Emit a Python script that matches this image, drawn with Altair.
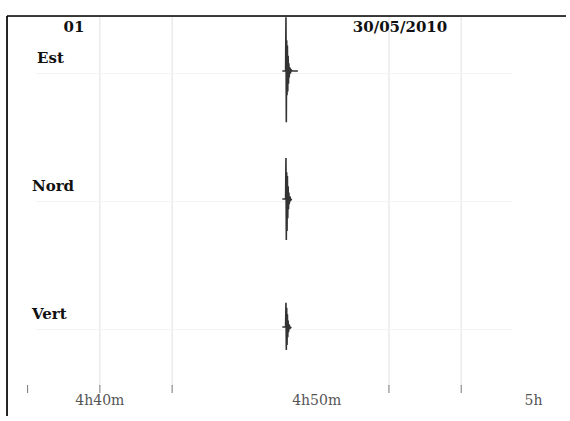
import altair as alt
import pandas as pd

# ---- data ----
stations = ["Est", "Nord", "Vert"]
track_index = [0, 1, 2]

# time in seconds after 4h00m
est_t = [2905, 2914, 2915, 2916, 2917, 2918, 2919, 2920, 2921, 2922, 2923, 2924, 2925, 2927, 2929, 2932, 2948]
est_a = [0.0, 0.0, -0.42, 0.40, -0.24, 0.19, -0.20, 0.16, -0.12, 0.10, -0.06, 0.05, -0.03, 0.02, -0.01, 0.0, 0.0]

nord_t = [2905, 2914, 2915, 2916, 2917, 2918, 2919, 2920, 2921, 2922, 2923, 2924, 2926, 2928, 2931]
nord_a = [0.0, 0.0, -0.32, 0.32, -0.21, 0.25, -0.18, 0.15, -0.10, 0.08, -0.05, 0.04, -0.02, 0.01, 0.0]

vert_t = [2905, 2914, 2915, 2916, 2917, 2918, 2919, 2920, 2921, 2922, 2924, 2926, 2930]
vert_a = [0.0, 0.0, -0.19, 0.18, -0.15, 0.14, -0.10, 0.08, -0.05, 0.04, -0.02, 0.01, 0.0]

tick_values = [2200, 2400, 2600, 3200, 3400]
grid_values = [2400, 2600, 3200, 3400]
tick_labels = ["4h40m", "4h50m", "5h"]
tick_label_values = [2400, 3000, 3600]

title_left = "01"
title_date = "30/05/2010"

x_domain = [2143, 3690]
y_domain = [-0.43, 2.695]

# ---- tables ----
rows = []
for name, k, ts, amps in [("Est", 0, est_t, est_a), ("Nord", 1, nord_t, nord_a), ("Vert", 2, vert_t, vert_a)]:
    for i, (t, a) in enumerate(zip(ts, amps)):
        rows.append({"station": name, "i": i, "t": t, "y": k + a})
trace_df = pd.DataFrame(rows)

base_rows = []
for name, k in zip(stations, track_index):
    base_rows.append({"station": name, "t": x_domain[0] + 80, "y": k + 0.02})
    base_rows.append({"station": name, "t": x_domain[1] - 150, "y": k + 0.02})
base_df = pd.DataFrame(base_rows)

label_df = pd.DataFrame({"station": stations, "y": [k - 0.1 for k in track_index],
                         "px": [37 - 7, 32 - 7, 32 - 7]})
grid_df = pd.DataFrame({"t": grid_values})
tick_df = pd.DataFrame({"t": tick_values})
ticklab_df = pd.DataFrame({"t": tick_label_values, "label": tick_labels})

W, H = 559, 400
xs = alt.Scale(domain=x_domain, nice=False, zero=False)
ys = alt.Scale(domain=y_domain, nice=False, zero=False, reverse=True)
X = lambda f="t": alt.X(f"{f}:Q", scale=xs, axis=None)

grid = alt.Chart(grid_df).mark_rule(color="#e6e6e6", strokeWidth=1.2).encode(
    x=X(), y=alt.value(0), y2=alt.value(370))
ticks = alt.Chart(tick_df).mark_rule(color="#777", strokeWidth=1).encode(
    x=X(), y=alt.value(369), y2=alt.value(377))
ticklabs = alt.Chart(ticklab_df).mark_text(font="DejaVu Serif", fontSize=14, color="#555",
                                           baseline="middle", align="center").encode(
    x=X(), y=alt.value(385), text="label:N")

baseline = alt.Chart(base_df).mark_line(color="#f3f3f3", strokeWidth=1).encode(
    x=X(), y=alt.Y("y:Q", scale=ys, axis=None), detail="station:N")
trace = alt.Chart(trace_df).mark_line(color="#333333", strokeWidth=1.6).encode(
    x=X(), y=alt.Y("y:Q", scale=ys, axis=None), detail="station:N", order="i:Q")

labels = alt.Chart(label_df).mark_text(font="DejaVu Serif", fontWeight="bold", fontSize=15,
                                       color="#111", align="left", baseline="middle").encode(
    x=alt.X("px:Q", scale=None), y=alt.Y("y:Q", scale=ys, axis=None), text="station:N")

head_df = pd.DataFrame({"txt": [title_left, title_date], "px": [67, 393]})
heads = alt.Chart(head_df).mark_text(font="DejaVu Serif", fontWeight="bold", fontSize=15,
                                     color="#111", align="center", baseline="middle").encode(
    x=alt.X("px:Q", scale=None), y=alt.value(11), text="txt:N")

border_l = alt.Chart(head_df).mark_rule(color="#000", strokeWidth=1.2).encode(
    x=alt.value(0), y=alt.value(0), y2=alt.value(H))
border_t = alt.Chart(head_df).mark_rule(color="#000", strokeWidth=1.2).encode(
    x=alt.value(0), x2=alt.value(W), y=alt.value(0))

chart = alt.layer(grid, ticks, ticklabs, baseline, trace, labels, heads, border_l, border_t).properties(
    width=W, height=H,
    autosize=alt.AutoSizeParams(type="none"),
    padding={"left": 7, "top": 16, "right": 0, "bottom": 0},
).configure_view(stroke=None).configure(background="white")

chart.save("out.html", embed_options={"renderer": "svg", "actions": False})
